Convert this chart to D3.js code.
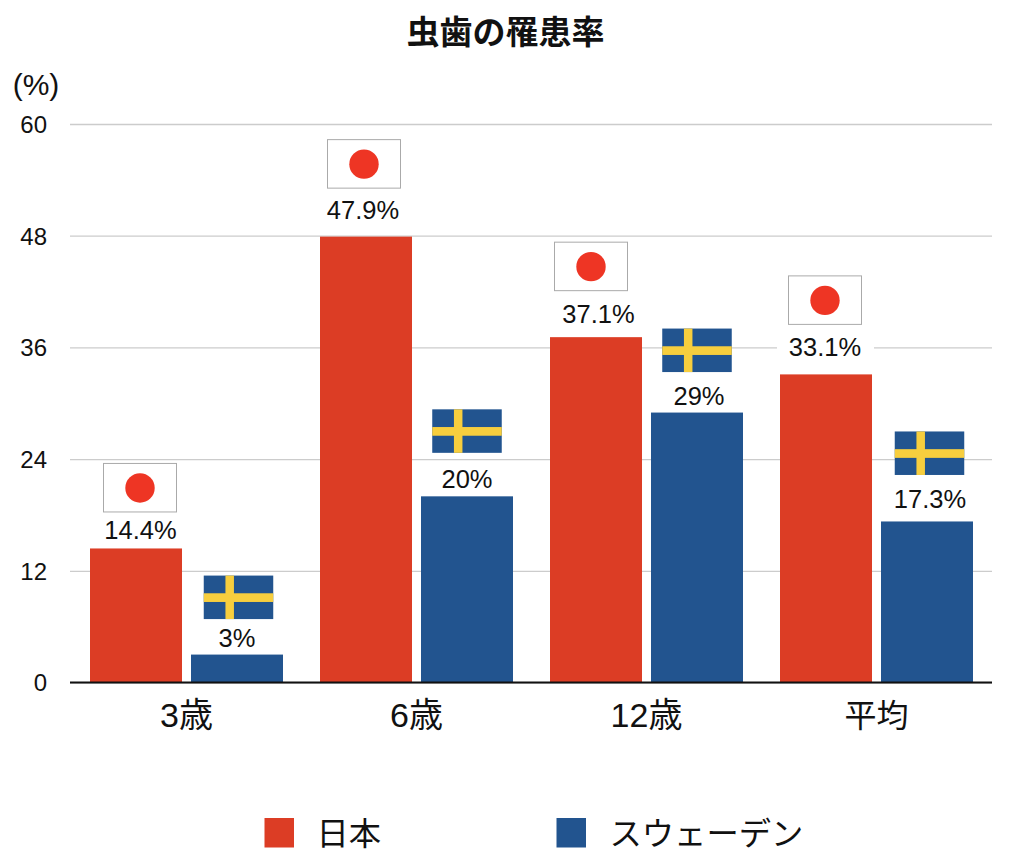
<!DOCTYPE html>
<html><head><meta charset="utf-8">
<script src="https://cdn.jsdelivr.net/npm/d3@7"></script>
<style>
html,body{margin:0;padding:0;background:#fff}
svg{display:block}
text{font-family:"Liberation Sans","Noto Sans CJK JP",sans-serif;fill:#111}
</style></head><body>
<svg id="c" width="1024" height="864"></svg>
<script>
const titleText = "虫歯の罹患率";
const unitText = "(%)";
const categories = ["3歳","6歳","12歳","平均"];
const seriesNames = ["日本","スウェーデン"];
const japanValues = [14.4,47.9,37.1,33.1];
const swedenValues = [3,20,29,17.3];
const tickValues = [0,12,24,36,48,60];

const svg = d3.select("#c");
const colors = ["#dc3d25","#22548f"];
const W = {l:70,r:992,top:124,bottom:682.5};
const y = d3.scaleLinear().domain([0,60]).range([W.bottom,W.top]);
const x0 = d3.scaleBand().domain(categories).range([70,990]);
const x1 = d3.scaleBand().domain(seriesNames).range([20,213]).paddingInner(0.089);
const vals = [japanValues,swedenValues];

// title and unit
svg.append("text").attr("x",505.5).attr("y",44).attr("text-anchor","middle")
  .attr("font-size",33).attr("font-weight",700).text(titleText);
svg.append("text").attr("x",36).attr("y",95).attr("text-anchor","middle")
  .attr("font-size",30).text(unitText);

// grid and y axis
const axis = d3.axisLeft(y).tickValues(tickValues).tickSize(W.l-W.r).tickPadding(0);
const gy = svg.append("g").attr("transform",`translate(${W.l},0)`).call(axis);
gy.select(".domain").remove();
gy.selectAll("line").attr("stroke","#cccccc").attr("stroke-width",1.3).attr("x1",0).attr("x2",W.r-W.l);
gy.selectAll("text").attr("x",-23).attr("dy","0.35em")
  .attr("font-size",24).attr("text-anchor","end");

// bars
const groups = svg.append("g").selectAll("g").data(categories).join("g")
  .attr("transform",d=>`translate(${x0(d)},0)`);
seriesNames.forEach((s,si)=>{
  groups.append("rect")
    .attr("x",x1(s)).attr("width",x1.bandwidth())
    .attr("y",(d,i)=>y(vals[si][i]))
    .attr("height",(d,i)=>y(0)-y(vals[si][i]))
    .attr("fill",colors[si]);
});

// baseline
svg.append("line").attr("x1",70).attr("x2",992).attr("y1",W.bottom).attr("y2",W.bottom)
  .attr("stroke","#111").attr("stroke-width",2);

// x labels
svg.append("g").selectAll("text").data(categories).join("text")
  .attr("x",d=>x0(d)+116.5).attr("y",726.5).attr("text-anchor","middle")
  .attr("font-size",d=>d==="平均"?32:34).text(d=>d);

// value labels + flags. Hand-placed offsets from the bar top / centre.
const jpFlagDx = [4,-2,-5,-1];
const jpFlagDy = [85,97,95,98.5];
const jpLabelDy = [9.5,18,14,18];
const jpLabelDx = [4.5,-3,2.5,-1];
const seFlagDx = [1.5,0,0,2.5];
const seFlagDy = [79,87,84,90];
const seLabelDy = [8,8,8,13];
const seLabelDx = [0,0,2,3];

categories.forEach((c,i)=>{
  // Japan
  const jc = x0(c)+x1(seriesNames[0])+x1.bandwidth()/2;
  const jt = y(japanValues[i]);
  const fx = jc+jpFlagDx[i], fy = jt-jpFlagDy[i];
  const g = svg.append("g");
  if(i===3){ g.append("rect").attr("x",jc-49).attr("y",jt-44).attr("width",97).attr("height",34).attr("fill","#fff"); }
  g.append("rect").attr("x",fx-36.5).attr("y",fy).attr("width",73).attr("height",48.5)
    .attr("fill","#fff").attr("stroke","#aaa").attr("stroke-width",1);
  g.append("circle").attr("cx",fx).attr("cy",fy+24.5).attr("r",14.7).attr("fill","#ee3524");
  g.append("text").attr("x",jc+jpLabelDx[i]).attr("y",jt-jpLabelDy[i]).attr("text-anchor","middle")
    .attr("font-size",25.5).text(japanValues[i]+"%");
  // Sweden
  const sc = x0(c)+x1(seriesNames[1])+x1.bandwidth()/2;
  const st = y(swedenValues[i]);
  const hx = sc+seFlagDx[i], hy = st-seFlagDy[i];
  const h = svg.append("g").attr("transform",`translate(${hx-34.75},${hy})`);
  h.append("rect").attr("width",69.5).attr("height",43.5).attr("fill",colors[1]);
  h.append("rect").attr("x",21.7).attr("width",8.5).attr("height",43.5).attr("fill","#f7ce3e");
  h.append("rect").attr("y",17.7).attr("width",69.5).attr("height",8.7).attr("fill","#f7ce3e");
  svg.append("text").attr("x",sc+seLabelDx[i]).attr("y",st-seLabelDy[i]).attr("text-anchor","middle")
    .attr("font-size",25.5).text(swedenValues[i]+"%");
});

// legend
const legX = [264.5,556.5];
seriesNames.forEach((s,i)=>{
  svg.append("rect").attr("x",legX[i]).attr("y",818).attr("width",29.5).attr("height",29.5).attr("fill",colors[i]);
  svg.append("text").attr("x",legX[i]+(i?53:52)).attr("y",845).attr("font-size",32.3).text(s);
});
</script></body></html>
